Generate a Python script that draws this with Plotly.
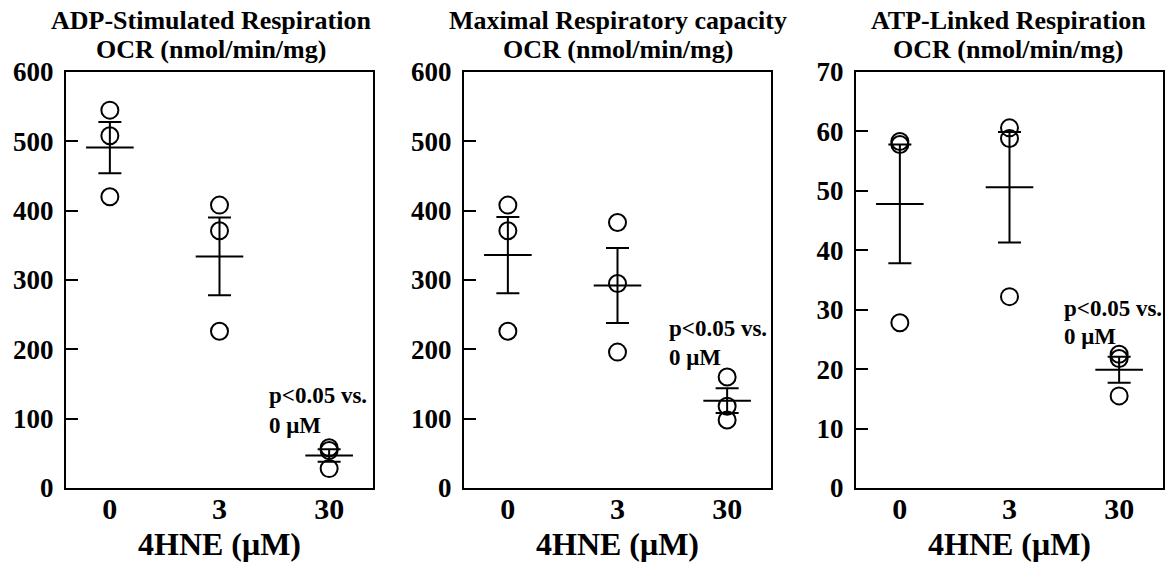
import plotly.graph_objects as go

# ---------------- data ----------------
doses = ["0", "3", "30"]          # 4HNE (µM) category labels
cat_pos = [0, 1, 2]

panel_titles = ["ADP-Stimulated Respiration", "Maximal Respiratory capacity", "ATP-Linked Respiration"]
unit_line = "OCR (nmol/min/mg)"

# individual replicates per dose
adp_pts = [[545, 508, 420], [408, 371, 226], [58, 54, 28]]
adp_mean = [491, 334, 47]
adp_sem = [37, 56, 9]

max_pts = [[408, 371, 226], [383, 295, 196], [160, 118, 98]]
max_mean = [336, 292, 126]
max_sem = [55, 54, 18]

atp_pts = [[58.3, 57.8, 27.8], [60.6, 58.8, 32.2], [22.5, 21.8, 15.5]]
atp_mean = [47.8, 50.6, 19.9]
atp_sem = [10.0, 9.3, 2.2]

y_ranges = [[0, 600], [0, 600], [0, 70]]
y_dticks = [100, 100, 10]

# ---------------- figure ----------------
W, H = 1172, 564
FONT = "Liberation Serif, Times New Roman, serif"

def px(x):
    return x / W

def py(y):
    return 1 - y / H

x_domains = [[px(66), px(373)], [px(464), px(771)], [px(856), px(1163)]]
y_domain = [py(488), py(72)]

fig = go.Figure()

panels = [(adp_pts, adp_mean, adp_sem), (max_pts, max_mean, max_sem), (atp_pts, atp_mean, atp_sem)]

for i, (pts, means, sems) in enumerate(panels):
    xa = "x" if i == 0 else f"x{i+1}"
    ya = "y" if i == 0 else f"y{i+1}"
    xs, ys = [], []
    for c, vals in zip(cat_pos, pts):
        for v in vals:
            xs.append(c)
            ys.append(v)
    fig.add_trace(go.Scatter(
        x=xs, y=ys, mode="markers", xaxis=xa, yaxis=ya, showlegend=False,
        marker=dict(symbol="circle-open", size=17, color="black", line=dict(width=2, color="black")),
        cliponaxis=False,
    ))
    fig.add_trace(go.Scatter(
        x=cat_pos, y=means, mode="markers", xaxis=xa, yaxis=ya, showlegend=False,
        marker=dict(symbol="line-ew", size=34, color="black", line=dict(width=2, color="black")),
        error_y=dict(type="data", array=sems, visible=True, color="black", thickness=2, width=11.5),
        cliponaxis=False,
    ))

layout_axes = {}
for i in range(3):
    sfx = "" if i == 0 else str(i + 1)
    layout_axes[f"xaxis{sfx}"] = dict(
        domain=x_domains[i], range=[-0.4, 2.4], anchor=f"y{sfx}",
        tickmode="array", tickvals=cat_pos, ticktext=doses, ticks="",
        ticklabelstandoff=-7,
        showgrid=False, zeroline=False, showline=True, linecolor="black", linewidth=2, mirror=True,
        tickfont=dict(family=FONT, size=30, color="black", weight="bold"),
        automargin=False, fixedrange=True,
    )
    layout_axes[f"yaxis{sfx}"] = dict(
        domain=y_domain, range=y_ranges[i], anchor=f"x{sfx}",
        dtick=y_dticks[i], tick0=0, ticks="inside", ticklen=12, tickwidth=2, tickcolor="black",
        ticklabelstandoff=5,
        showgrid=False, zeroline=False, showline=True, linecolor="black", linewidth=2, mirror=True,
        tickfont=dict(family=FONT, size=27, color="black", weight="bold"),
        automargin=False, fixedrange=True,
    )

annotations = []
title_cx = [211, 617.5, 1008]
for i in range(3):
    annotations.append(dict(text=panel_titles[i], x=px(title_cx[i]), y=py(20), xref="paper", yref="paper",
                            xanchor="center", yanchor="middle", showarrow=False,
                            font=dict(family=FONT, size=26, color="black", weight="bold")))
    annotations.append(dict(text=unit_line, x=px(title_cx[i]), y=py(50), xref="paper", yref="paper",
                            xanchor="center", yanchor="middle", showarrow=False,
                            font=dict(family=FONT, size=26, color="black", weight="bold")))
    cx = (x_domains[i][0] + x_domains[i][1]) / 2
    annotations.append(dict(text="4HNE (\u03bcM)", x=cx, y=py(544), xref="paper", yref="paper",
                            xanchor="center", yanchor="middle", showarrow=False,
                            font=dict(family=FONT, size=32, color="black", weight="bold")))

sig_pos = [(267, 395, 425), (667, 328, 357), (1062, 308, 337)]
for (lx, y1, y2) in sig_pos:
    annotations.append(dict(text="p&lt;0.05 vs.", x=px(lx), y=py(y1), xref="paper", yref="paper",
                            xanchor="left", yanchor="middle", showarrow=False,
                            font=dict(family=FONT, size=23, color="black", weight="bold")))
    annotations.append(dict(text="0 \u03bcM", x=px(lx), y=py(y2), xref="paper", yref="paper",
                            xanchor="left", yanchor="middle", showarrow=False,
                            font=dict(family=FONT, size=23, color="black", weight="bold")))

fig.update_layout(
    width=W, height=H, autosize=False,
    margin=dict(l=0, r=0, t=0, b=0, pad=0, autoexpand=False),
    paper_bgcolor="white", plot_bgcolor="white",
    font=dict(family=FONT, color="black"),
    annotations=annotations,
    **layout_axes,
)

fig.write_html(
    "out.html",
    config={"responsive": False, "displayModeBar": False},
    post_script="document.body.style.margin='0';document.body.style.overflow='hidden';",
)
